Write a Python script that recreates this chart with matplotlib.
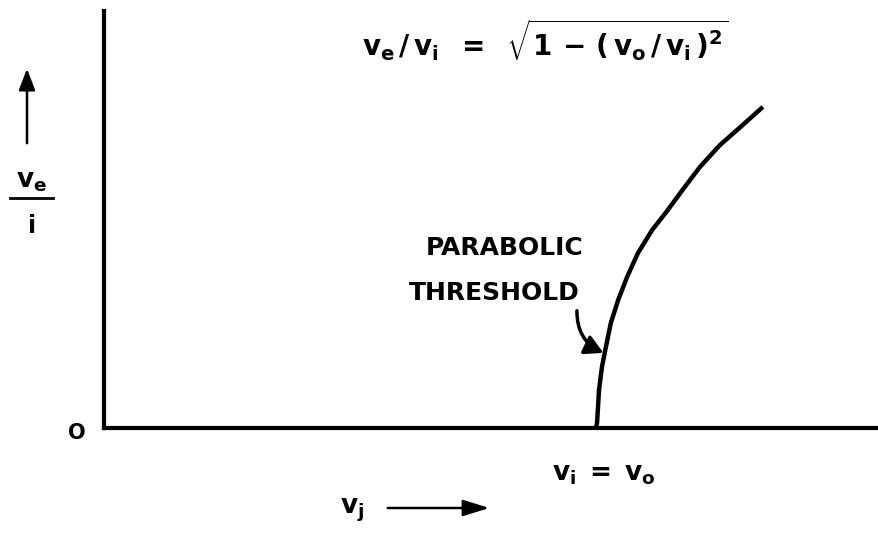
import numpy as np
import matplotlib.pyplot as plt

plt.rcParams['mathtext.fontset'] = 'custom'
plt.rcParams['mathtext.rm'] = 'DejaVu Sans:bold'
plt.rcParams['mathtext.it'] = 'DejaVu Sans:bold'
plt.rcParams['mathtext.bf'] = 'DejaVu Sans:bold'

# Threshold curve: v_i in units of v_o, v_e in arbitrary units.
v_i = [1.000, 1.002, 1.006, 1.012, 1.020, 1.030, 1.045, 1.063, 1.085,
       1.114, 1.144, 1.177, 1.211, 1.252, 1.293, 1.339]
v_e = [0.000, 0.014, 0.105, 0.169, 0.224, 0.290, 0.354, 0.417, 0.483,
       0.547, 0.599, 0.660, 0.721, 0.782, 0.831, 0.887]

x_max = 1.575
y_max = 1.152

W, H = 879, 534
fig = plt.figure(figsize=(W/100, H/100), dpi=100)
ax = fig.add_axes([104/W, (H-428)/H, (W-104)/W, (428-11)/H])
ax.set_xlim(0, x_max)
ax.set_ylim(0, y_max)
for s in ['top', 'right']:
    ax.spines[s].set_visible(False)
for s in ['left', 'bottom']:
    ax.spines[s].set_linewidth(3)
ax.set_xticks([])
ax.set_yticks([])

ax.plot(v_i, v_e, color='black', lw=3.2, solid_capstyle='butt', solid_joinstyle='round')

kw = dict(color='black', fontweight='bold', family='DejaVu Sans')

def ft(x, y, s, **k):
    # place text in pixel coordinates from the top-left corner
    fig.text(x/W, 1-y/H, s, **k, **kw)

# formula
ft(362, 40, r'$v_e\,/\,v_i \;\; = \;\; \sqrt{1\,-\,(\,v_o\,/\,v_i\,)^2}$',
   fontsize=20, ha='left', va='center')

# label and arrow to the curve
ft(505, 248, 'PARABOLIC', fontsize=18, ha='center', va='center')
ft(494, 293, 'THRESHOLD', fontsize=18, ha='center', va='center')
fig.add_artist(plt.Annotation('', xy=(606/W, 1-354/H), xytext=(577/W, 1-308/H),
                              xycoords='figure fraction', textcoords='figure fraction',
                              arrowprops=dict(arrowstyle='-|>,head_length=1.1,head_width=0.6',
                                              color='black', lw=2.5,
                                              connectionstyle='arc3,rad=0.35')))

# origin
ft(77, 433, 'O', fontsize=15, ha='center', va='center')

# v_i = v_o under the threshold
ft(604, 474, r'$v_i\;=\;v_o$', fontsize=19, ha='center', va='center')

# x-axis label and arrow
ft(352, 510, r'$v_j$', fontsize=19, ha='center', va='center')
fig.add_artist(plt.Annotation('', xy=(492/W, 1-508/H), xytext=(385/W, 1-508/H),
                              xycoords='figure fraction', textcoords='figure fraction',
                              arrowprops=dict(arrowstyle='-|>,head_length=1.6,head_width=0.5',
                                              color='black', lw=1.8)))

# y-axis label and arrow
fig.add_artist(plt.Annotation('', xy=(27/W, 1-66/H), xytext=(27/W, 1-146/H),
                              xycoords='figure fraction', textcoords='figure fraction',
                              arrowprops=dict(arrowstyle='-|>,head_length=1.3,head_width=0.5',
                                              color='black', lw=1.8)))
ft(31, 181, r'$v_e$', fontsize=19, ha='center', va='center')
fig.add_artist(plt.Line2D([10/W, 53/W], [1-198/H, 1-198/H], color='black', lw=2))
ft(32, 226, 'i', fontsize=17, ha='center', va='center')

fig.savefig('out.png', dpi=100)
